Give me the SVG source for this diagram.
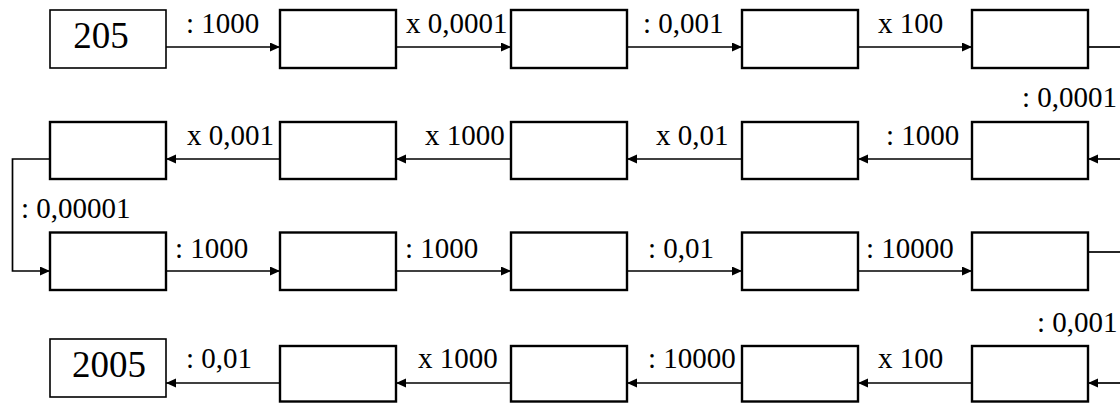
<svg xmlns="http://www.w3.org/2000/svg" width="1120" height="403" viewBox="0 0 1120 403">
<style>
  .box { fill: #fff; stroke: #000; stroke-width: 2.4; }
  .num { fill: #fff; stroke: #000; stroke-width: 1.6; }
  .c { fill: none; stroke: #000; stroke-width: 1.7; }
  .a { fill: none; stroke: #000; stroke-width: 1.7; marker-end: url(#ah); }
</style>
<defs>
  <marker id="ah" markerUnits="userSpaceOnUse" markerWidth="11" markerHeight="10" refX="10" refY="4.5" orient="auto">
    <path d="M0,0 L10,4.5 L0,9 z" fill="#000"/>
  </marker>
</defs>
<rect width="1120" height="403" fill="#fff"/>

<g id="connectors">
  <path class="a" d="M166,47 H280"/>
  <path class="a" d="M396,47 H511"/>
  <path class="a" d="M627,47 H742"/>
  <path class="a" d="M858,47 H972"/>
  <path class="c" d="M1088,47 H1120"/>
  <path class="a" d="M1120,159 H1088"/>
  <path class="a" d="M972,159 H858"/>
  <path class="a" d="M742,159 H627"/>
  <path class="a" d="M511,159 H396"/>
  <path class="a" d="M280,159 H166"/>
  <path class="a" d="M50,159 H12.5 V271 H50"/>
  <path class="a" d="M166,271 H280"/>
  <path class="a" d="M396,271 H511"/>
  <path class="a" d="M627,271 H742"/>
  <path class="a" d="M858,271 H972"/>
  <path class="c" d="M1088,252 H1120"/>
  <path class="a" d="M1120,383 H1088"/>
  <path class="a" d="M972,383 H858"/>
  <path class="a" d="M742,383 H627"/>
  <path class="a" d="M511,383 H396"/>
  <path class="a" d="M280,383 H166"/>
</g>

<g id="labels" font-family="'Liberation Serif', serif" font-size="29" fill="#000">
  <text x="186" y="33">: 1000</text>
  <text x="406" y="33">x 0,0001</text>
  <text x="643" y="33">: 0,001</text>
  <text x="878" y="33">x 100</text>
  <text x="1022" y="107">: 0,0001</text>

  <text x="187" y="145">x 0,001</text>
  <text x="425" y="145">x 1000</text>
  <text x="656" y="145">x 0,01</text>
  <text x="886" y="145">: 1000</text>

  <text x="21" y="218">: 0,00001</text>

  <text x="175" y="258">: 1000</text>
  <text x="405" y="258">: 1000</text>
  <text x="648" y="258">: 0,01</text>
  <text x="866" y="258">: 10000</text>

  <text x="1037" y="332">: 0,001</text>
  <text x="186" y="368">: 0,01</text>
  <text x="418" y="368">x 1000</text>
  <text x="648" y="368">: 10000</text>
  <text x="878" y="368">x 100</text>
</g>

<g id="n-205"><rect class="num" x="50" y="10" width="116" height="58"/><text x="101" y="48" font-family="'Liberation Serif', serif" font-size="37" text-anchor="middle">205</text></g>
<g id="n-r1c2"><rect class="box" x="280" y="10" width="116" height="58"/></g>
<g id="n-r1c3"><rect class="box" x="511" y="10" width="116" height="58"/></g>
<g id="n-r1c4"><rect class="box" x="742" y="10" width="116" height="58"/></g>
<g id="n-r1c5"><rect class="box" x="972" y="10" width="116" height="58"/></g>

<g id="n-r2c1"><rect class="box" x="50" y="122" width="116" height="57"/></g>
<g id="n-r2c2"><rect class="box" x="280" y="122" width="116" height="57"/></g>
<g id="n-r2c3"><rect class="box" x="511" y="122" width="116" height="57"/></g>
<g id="n-r2c4"><rect class="box" x="742" y="122" width="116" height="57"/></g>
<g id="n-r2c5"><rect class="box" x="972" y="122" width="116" height="57"/></g>

<g id="n-r3c1"><rect class="box" x="50" y="232.5" width="116" height="57.5"/></g>
<g id="n-r3c2"><rect class="box" x="280" y="232.5" width="116" height="57.5"/></g>
<g id="n-r3c3"><rect class="box" x="511" y="232.5" width="116" height="57.5"/></g>
<g id="n-r3c4"><rect class="box" x="742" y="232.5" width="116" height="57.5"/></g>
<g id="n-r3c5"><rect class="box" x="972" y="232.5" width="116" height="57.5"/></g>

<g id="n-2005"><rect class="num" x="50" y="339" width="116" height="58"/><text x="109" y="377" font-family="'Liberation Serif', serif" font-size="37" text-anchor="middle">2005</text></g>
<g id="n-r4c2"><rect class="box" x="280" y="346" width="116" height="55.5"/></g>
<g id="n-r4c3"><rect class="box" x="511" y="346" width="116" height="55.5"/></g>
<g id="n-r4c4"><rect class="box" x="742" y="346" width="116" height="55.5"/></g>
<g id="n-r4c5"><rect class="box" x="972" y="346" width="116" height="55.5"/></g>
</svg>
